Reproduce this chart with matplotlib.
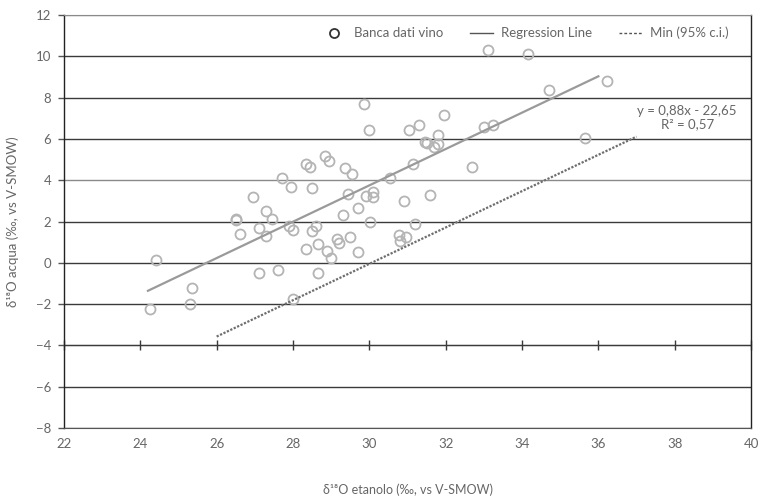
import numpy as np
import matplotlib
matplotlib.use("Agg")
import matplotlib.pyplot as plt

plt.rcParams['font.family'] = ['Lato', 'DejaVu Sans']

# wine database points (d18O ethanol, d18O water)
x_vals = [24.25, 24.4, 25.35, 25.3, 26.5, 26.5, 26.6, 26.95, 27.1, 27.1,
          27.3, 27.45, 27.3, 27.6, 27.7, 27.95, 27.9, 28.0, 28.0, 28.35,
          28.45, 28.5, 28.35, 28.5, 28.6, 28.65, 28.85, 28.95, 28.65, 28.9,
          29.0, 29.15, 29.2, 29.3, 29.35, 29.45, 29.55, 29.5, 29.7, 29.7,
          29.85, 29.98, 29.92, 30.1, 30.1, 30.02, 30.55, 30.78, 30.8, 30.9,
          30.96, 31.05, 31.15, 31.3, 31.2, 31.45, 31.5, 31.6, 31.7, 31.8,
          31.8, 31.95, 32.7, 33.0, 33.25, 33.1, 34.15, 34.7, 35.65, 36.22]
y_vals = [-2.24, 0.15, -1.2, -2.0, 2.12, 2.05, 1.4, 3.2, 1.7, -0.5,
          2.5, 2.1, 1.3, -0.35, 4.1, 3.65, 1.8, 1.6, -1.75, 4.8,
          4.65, 3.6, 0.65, 1.55, 1.8, -0.5, 5.15, 4.95, 0.9, 0.55,
          0.25, 1.15, 0.95, 2.3, 4.6, 3.35, 4.3, 1.25, 2.65, 0.5,
          7.7, 6.45, 3.25, 3.45, 3.2, 2.0, 4.1, 1.35, 1.05, 3.0,
          1.25, 6.45, 4.8, 6.65, 1.9, 5.85, 5.8, 3.3, 5.6, 6.2,
          5.75, 7.15, 4.65, 6.6, 6.65, 10.3, 10.1, 8.35, 6.05, 8.8]

slope, intercept = 0.88, -22.65
reg_x = [24.2, 36.0]
min_shift = 3.8
min_x = [26.0, 37.0]

xticks = list(range(22, 41, 2))
yticks = list(range(-8, 13, 2))

grey_txt = '#666666'

fig = plt.figure(figsize=(7.58, 4.96), dpi=100)
ax = fig.add_axes([0.0844, 0.137, 0.9064, 0.8328])

for yv in yticks:
    ax.axhline(yv, color='#3a3a3a' if yv not in (12, 4) else '#8a8a8a',
               lw=1.0, zorder=1)

ax.plot(x_vals, y_vals, 'o', ms=7.2, mfc='none', mec='#b4b4b4', mew=1.3,
        zorder=3, label='Banca dati vino', linestyle='none')

rx = np.array(reg_x)
ax.plot(rx, slope * rx + intercept, color='#9a9a9a', lw=1.6, zorder=4,
        label='Regression Line')
mx = np.array(min_x)
ax.plot(mx, slope * mx + intercept - min_shift, color='#6e6e6e', lw=1.6,
        ls=(0, (1.0, 0.7)), zorder=4, label='Min (95% c.i.)')

ax.set_xlim(22, 40)
ax.set_ylim(-8, 12)
ax.set_xticks(xticks)
ax.set_yticks(yticks)
ax.tick_params(axis='x', length=0, pad=7, labelsize=9.5, labelcolor=grey_txt)
ax.tick_params(axis='y', length=4, width=1, color='#555555', pad=5,
               labelsize=9.5, labelcolor=grey_txt)

for side in ['left', 'right']:
    ax.spines[side].set_color('#222222')
    ax.spines[side].set_linewidth(1.0)
ax.spines['top'].set_color('#8a8a8a')
ax.spines['bottom'].set_color('#555555')

# horizontal axis crossing at y = -4 with tick marks
sec = ax.secondary_xaxis(0.2)
sec.set_xticks(xticks)
sec.set_xticklabels([])
sec.tick_params(axis='x', direction='inout', length=7, width=1,
                color='#3a3a3a')
sec.spines['bottom'].set_color('#3a3a3a')

ax.set_xlabel('δ¹⁸O etanolo (‰, vs V-SMOW)', fontsize=9, color=grey_txt,
              labelpad=24)
ax.set_ylabel('δ¹⁸O acqua (‰, vs V-SMOW)', fontsize=9.5, color=grey_txt,
              labelpad=12)

ax.text(0.907, 0.752, 'y = 0,88x - 22,65\nR² = 0,57', transform=ax.transAxes,
        ha='center', va='center', fontsize=9.5, color=grey_txt,
        multialignment='center', linespacing=1.1, zorder=5)

leg = ax.legend(loc='center', bbox_to_anchor=(0.672, 0.956), ncol=3,
                frameon=False, fontsize=9.5, handlelength=1.8,
                columnspacing=2.0, handletextpad=0.6)
for t in leg.get_texts():
    t.set_color(grey_txt)
handles = leg.legend_handles
handles[0].set_markeredgecolor('#333333')
handles[0].set_markersize(6.5)
handles[1].set_color('#555555')
handles[1].set_linewidth(1.0)
handles[2].set_color('#555555')
handles[2].set_linewidth(1.0)
handles[2].set_linestyle((0, (2, 1.5)))

fig.savefig('out.png', dpi=100)
